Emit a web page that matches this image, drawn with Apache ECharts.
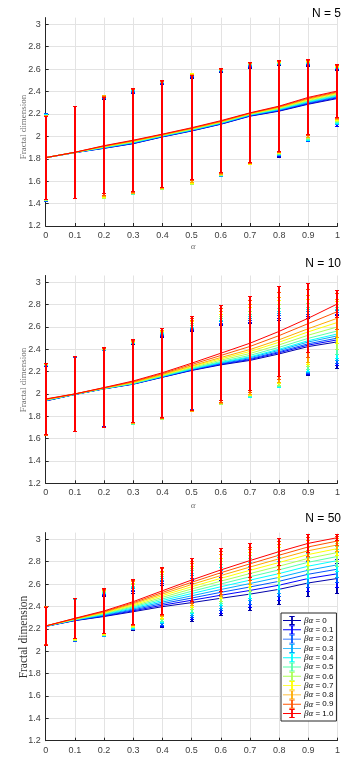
<!DOCTYPE html>
<html>
<head>
<meta charset="utf-8">
<script src="https://cdn.jsdelivr.net/npm/echarts@6/dist/echarts.min.js"></script>
<style>
  html, body { margin: 0; padding: 0; background: #fff; }
  #chart { width: 343px; height: 757px; }
</style>
</head>
<body>
<div id="chart"></div>
<script>
// alpha values on the x axis
const alphas = [0, 0.1, 0.2, 0.3, 0.4, 0.5, 0.6, 0.7, 0.8, 0.9, 1]
// beta*alpha legend labels
const betas = ['0', '0.1', '0.2', '0.3', '0.4', '0.5', '0.6', '0.7', '0.8', '0.9', '1.0']
const panelTitles = ['N = 5', 'N = 10', 'N = 50']

// N = 5 : mean fractal dimension, one row per beta
const n5Mean = [
  [1.81, 1.855, 1.893, 1.935, 1.995, 2.048, 2.108, 2.180, 2.225, 2.287, 2.338],
  [1.81, 1.855, 1.895, 1.937, 1.997, 2.050, 2.110, 2.183, 2.229, 2.292, 2.345],
  [1.81, 1.856, 1.897, 1.940, 1.999, 2.053, 2.113, 2.186, 2.233, 2.298, 2.352],
  [1.81, 1.856, 1.899, 1.943, 2.002, 2.055, 2.116, 2.189, 2.237, 2.304, 2.358],
  [1.81, 1.856, 1.901, 1.946, 2.004, 2.058, 2.119, 2.192, 2.241, 2.309, 2.364],
  [1.81, 1.857, 1.904, 1.949, 2.007, 2.061, 2.122, 2.195, 2.246, 2.315, 2.370],
  [1.81, 1.857, 1.906, 1.952, 2.009, 2.064, 2.125, 2.198, 2.250, 2.321, 2.377],
  [1.81, 1.857, 1.909, 1.955, 2.012, 2.067, 2.128, 2.201, 2.255, 2.328, 2.384],
  [1.81, 1.857, 1.911, 1.958, 2.014, 2.070, 2.131, 2.204, 2.260, 2.334, 2.391],
  [1.81, 1.858, 1.914, 1.962, 2.017, 2.073, 2.135, 2.207, 2.265, 2.341, 2.398],
  [1.81, 1.858, 1.917, 1.966, 2.020, 2.077, 2.140, 2.210, 2.270, 2.348, 2.405]
]
// N = 5 : error bar half length
const n5Err = [
  [0.395, 0.41, 0.435, 0.445, 0.465, 0.47, 0.46, 0.43, 0.41, 0.335, 0.25],
  [0.39, 0.41, 0.44, 0.45, 0.47, 0.475, 0.465, 0.435, 0.41, 0.34, 0.255],
  [0.39, 0.41, 0.445, 0.455, 0.47, 0.48, 0.465, 0.44, 0.405, 0.34, 0.25],
  [0.385, 0.41, 0.45, 0.46, 0.475, 0.485, 0.47, 0.44, 0.405, 0.345, 0.25],
  [0.385, 0.41, 0.455, 0.46, 0.475, 0.49, 0.47, 0.445, 0.405, 0.345, 0.245],
  [0.38, 0.41, 0.46, 0.465, 0.475, 0.49, 0.47, 0.445, 0.405, 0.34, 0.245],
  [0.38, 0.41, 0.46, 0.465, 0.48, 0.495, 0.47, 0.45, 0.405, 0.34, 0.24],
  [0.375, 0.41, 0.455, 0.465, 0.48, 0.49, 0.47, 0.45, 0.405, 0.34, 0.24],
  [0.375, 0.41, 0.45, 0.465, 0.48, 0.48, 0.47, 0.45, 0.405, 0.34, 0.24],
  [0.37, 0.41, 0.44, 0.46, 0.475, 0.47, 0.465, 0.45, 0.405, 0.335, 0.235],
  [0.37, 0.41, 0.43, 0.46, 0.475, 0.465, 0.465, 0.447, 0.405, 0.335, 0.235]
]

// N = 10
const n10Mean = [
  [1.937, 1.995, 2.045, 2.087, 2.149, 2.210, 2.260, 2.300, 2.358, 2.424, 2.466],
  [1.938, 1.996, 2.046, 2.089, 2.151, 2.213, 2.265, 2.308, 2.369, 2.437, 2.484],
  [1.940, 1.996, 2.047, 2.090, 2.153, 2.217, 2.270, 2.315, 2.378, 2.449, 2.500],
  [1.941, 1.997, 2.048, 2.092, 2.156, 2.220, 2.277, 2.325, 2.390, 2.465, 2.520],
  [1.943, 1.997, 2.048, 2.093, 2.158, 2.224, 2.282, 2.332, 2.400, 2.477, 2.537],
  [1.944, 1.998, 2.049, 2.095, 2.161, 2.229, 2.290, 2.345, 2.417, 2.498, 2.564],
  [1.946, 1.998, 2.050, 2.099, 2.165, 2.236, 2.302, 2.362, 2.439, 2.526, 2.600],
  [1.948, 1.999, 2.052, 2.102, 2.170, 2.244, 2.314, 2.380, 2.463, 2.556, 2.640],
  [1.950, 1.999, 2.053, 2.105, 2.175, 2.251, 2.326, 2.397, 2.485, 2.584, 2.678],
  [1.952, 2.000, 2.055, 2.110, 2.182, 2.263, 2.344, 2.425, 2.522, 2.630, 2.737],
  [1.955, 2.000, 2.057, 2.116, 2.190, 2.275, 2.364, 2.454, 2.560, 2.678, 2.806]
]
const n10Err = [
  [0.31, 0.33, 0.34, 0.357, 0.36, 0.35, 0.35, 0.33, 0.30, 0.255, 0.235],
  [0.31, 0.33, 0.342, 0.36, 0.365, 0.355, 0.355, 0.335, 0.31, 0.26, 0.23],
  [0.312, 0.332, 0.345, 0.36, 0.37, 0.36, 0.36, 0.34, 0.32, 0.265, 0.23],
  [0.313, 0.335, 0.345, 0.362, 0.375, 0.37, 0.37, 0.35, 0.33, 0.27, 0.225],
  [0.315, 0.335, 0.348, 0.362, 0.38, 0.375, 0.375, 0.36, 0.34, 0.275, 0.22],
  [0.315, 0.335, 0.35, 0.365, 0.385, 0.385, 0.385, 0.37, 0.35, 0.28, 0.21],
  [0.317, 0.335, 0.35, 0.365, 0.39, 0.39, 0.395, 0.38, 0.36, 0.285, 0.20],
  [0.318, 0.336, 0.352, 0.368, 0.39, 0.40, 0.40, 0.39, 0.37, 0.29, 0.19],
  [0.318, 0.336, 0.352, 0.368, 0.395, 0.41, 0.41, 0.40, 0.38, 0.30, 0.17],
  [0.32, 0.333, 0.355, 0.37, 0.40, 0.415, 0.42, 0.41, 0.39, 0.305, 0.16],
  [0.32, 0.333, 0.355, 0.37, 0.40, 0.42, 0.425, 0.42, 0.40, 0.31, 0.12]
]

// N = 50
const n50Mean = [
  [2.222, 2.273, 2.310, 2.353, 2.398, 2.434, 2.473, 2.510, 2.553, 2.610, 2.650],
  [2.222, 2.275, 2.314, 2.361, 2.411, 2.455, 2.500, 2.543, 2.590, 2.650, 2.692],
  [2.223, 2.277, 2.319, 2.369, 2.425, 2.475, 2.526, 2.574, 2.625, 2.688, 2.733],
  [2.223, 2.279, 2.324, 2.378, 2.439, 2.495, 2.551, 2.605, 2.660, 2.724, 2.772],
  [2.224, 2.281, 2.329, 2.387, 2.453, 2.515, 2.576, 2.635, 2.694, 2.760, 2.810],
  [2.224, 2.283, 2.334, 2.396, 2.467, 2.535, 2.601, 2.665, 2.727, 2.795, 2.847],
  [2.225, 2.285, 2.339, 2.405, 2.482, 2.556, 2.626, 2.694, 2.760, 2.830, 2.882],
  [2.225, 2.287, 2.344, 2.414, 2.497, 2.576, 2.651, 2.723, 2.793, 2.864, 2.917],
  [2.226, 2.289, 2.349, 2.424, 2.511, 2.596, 2.676, 2.752, 2.826, 2.898, 2.950],
  [2.226, 2.292, 2.354, 2.433, 2.525, 2.616, 2.701, 2.781, 2.858, 2.932, 2.985],
  [2.225, 2.294, 2.360, 2.443, 2.540, 2.636, 2.726, 2.810, 2.890, 2.964, 3.015]
]
const n50Err = [
  [0.17, 0.19, 0.18, 0.165, 0.19, 0.17, 0.155, 0.15, 0.14, 0.12, 0.13],
  [0.17, 0.19, 0.185, 0.17, 0.19, 0.175, 0.16, 0.155, 0.14, 0.12, 0.125],
  [0.17, 0.19, 0.185, 0.175, 0.195, 0.175, 0.165, 0.155, 0.14, 0.115, 0.12],
  [0.17, 0.185, 0.19, 0.18, 0.195, 0.18, 0.17, 0.155, 0.14, 0.115, 0.11],
  [0.17, 0.185, 0.19, 0.185, 0.20, 0.18, 0.17, 0.16, 0.14, 0.11, 0.10],
  [0.17, 0.185, 0.19, 0.185, 0.20, 0.185, 0.175, 0.16, 0.135, 0.105, 0.09],
  [0.17, 0.185, 0.195, 0.19, 0.20, 0.185, 0.18, 0.16, 0.135, 0.10, 0.08],
  [0.17, 0.18, 0.195, 0.19, 0.205, 0.185, 0.18, 0.155, 0.13, 0.095, 0.065],
  [0.17, 0.18, 0.195, 0.195, 0.205, 0.19, 0.185, 0.155, 0.13, 0.09, 0.055],
  [0.17, 0.18, 0.20, 0.20, 0.21, 0.19, 0.19, 0.15, 0.125, 0.085, 0.04],
  [0.17, 0.18, 0.20, 0.20, 0.21, 0.19, 0.19, 0.15, 0.12, 0.08, 0.03]
]

// jet(11)
const colors = ['#0000aa', '#0000ff', '#0055ff', '#00aaff', '#00ffff', '#55ffaa',
  '#aaff55', '#ffff00', '#ffaa00', '#ff5500', '#ff0000']

const panels = [
  { mean: n5Mean, err: n5Err, top: 17.6, height: 208.4, labelY: 127, titleY: 14, nameSize: 9, nameColor: '#707070', alphaY: 247 },
  { mean: n10Mean, err: n10Err, top: 275.5, height: 207.8, labelY: 380, titleY: 264, nameSize: 9, nameColor: '#707070', alphaY: 506 },
  { mean: n50Mean, err: n50Err, top: 532.6, height: 208.1, labelY: 637, titleY: 519, nameSize: 11.5, nameColor: '#333', alphaY: null }
]

const axisColor = '#262626'
const labelStyle = { fontSize: 9, color: '#404040', fontFamily: 'Liberation Sans', margin: 5 }

function renderErrorBar(params, api) {
  const x = api.value(0)
  const m = api.value(1)
  const e = api.value(2)
  const hi = api.coord([x, m + e])
  const lo = api.coord([x, m - e])
  // whole-pixel x so a 2px bar fully covers the bars drawn under it
  const cx = Math.round(hi[0])
  const yTop = Math.round(hi[1] - 0.5) + 0.5
  const yBot = Math.round(lo[1] - 0.5) + 0.5
  const w = 2
  const color = api.visual('color')
  return {
    type: 'group',
    children: [
      { type: 'line', shape: { x1: cx, y1: yTop, x2: cx, y2: yBot }, style: { stroke: color, lineWidth: 2 } },
      { type: 'line', shape: { x1: cx - w, y1: yTop, x2: cx + w, y2: yTop }, style: { stroke: color, lineWidth: 1 } },
      { type: 'line', shape: { x1: cx - w, y1: yBot, x2: cx + w, y2: yBot }, style: { stroke: color, lineWidth: 1 } }
    ]
  }
}

const grid = []
const xAxis = []
const yAxis = []
const series = []
const graphic = []

panels.forEach((p, pi) => {
  grid.push({ left: 45.7, width: 294.6, top: p.top, height: p.height })
  xAxis.push({
    type: 'value', gridIndex: pi, min: 0, max: 1, interval: 0.1,
    axisLine: { lineStyle: { color: axisColor, width: 1 } },
    axisTick: { inside: true, length: 3, lineStyle: { color: axisColor } },
    axisLabel: labelStyle,
    splitLine: { show: true, lineStyle: { color: '#e3e3e3', width: 1 } }
  })
  yAxis.push({
    type: 'value', gridIndex: pi, min: 1.2, max: 3.06, interval: 0.2,
    axisLine: { show: true, lineStyle: { color: axisColor, width: 1 } },
    axisTick: { show: true, inside: true, length: 3, lineStyle: { color: axisColor } },
    axisLabel: Object.assign({ showMaxLabel: false }, labelStyle),
    splitLine: { show: true, showMaxLine: false, lineStyle: { color: '#e3e3e3', width: 1 } }
  })

  betas.forEach((b, k) => {
    const lineData = alphas.map((a, i) => [a, p.mean[k][i]])
    const barData = alphas.map((a, i) => [a, p.mean[k][i], p.err[k][i]])
    // line and its error bars share one z so later betas sit on top
    series.push({
      type: 'line', name: 'mean' + pi + '-' + b,
      xAxisIndex: pi, yAxisIndex: pi, z: 2 + k * 0.01,
      data: lineData, symbol: 'none', silent: true,
      lineStyle: { color: colors[k], width: 1 },
      itemStyle: { color: colors[k] }
    })
    series.push({
      type: 'custom', name: pi === 2 ? b : 'err' + pi + '-' + b,
      xAxisIndex: pi, yAxisIndex: pi, z: 2 + k * 0.01,
      data: barData, renderItem: renderErrorBar, silent: true,
      encode: { x: 0, y: 1 },
      itemStyle: { color: colors[k] }
    })
  })

  graphic.push({
    type: 'text', x: 341, y: p.titleY,
    style: { text: panelTitles[pi], fontSize: 12, fill: '#000', fontFamily: 'Liberation Sans', align: 'right', verticalAlign: 'middle' }
  })
  graphic.push({
    type: 'text', x: 24, y: p.labelY, rotation: Math.PI / 2,
    style: { text: 'Fractal dimension', fontSize: p.nameSize, fill: p.nameColor, fontFamily: 'Liberation Serif', align: 'center', verticalAlign: 'middle' }
  })
  if (p.alphaY) {
    graphic.push({
      type: 'text', x: 193, y: p.alphaY,
      style: { text: 'α', fontSize: 9, fill: '#707070', fontFamily: 'Liberation Serif', fontStyle: 'italic', align: 'center', verticalAlign: 'middle' }
    })
  }
})

const chart = echarts.init(document.getElementById('chart'), null, { renderer: 'canvas' })
chart.setOption({
  animation: false,
  backgroundColor: '#fff',
  grid: grid,
  xAxis: xAxis,
  yAxis: yAxis,
  legend: {
    data: betas,
    orient: 'vertical',
    left: 281,
    top: 613,
    backgroundColor: '#fff',
    borderColor: axisColor,
    borderWidth: 1,
    borderRadius: 0,
    padding: [3, 3, 3, 2],
    itemWidth: 18,
    itemHeight: 10,
    itemGap: 0.3,
    icon: 'path://M0,4.5H20V5.5H0Z M9,0H11V10H9Z M7,0H13V1H7Z M7,9H13V10H7Z',
    formatter: name => '{g|βα} = ' + name,
    textStyle: {
      fontSize: 8, color: '#000', fontFamily: 'Liberation Sans', padding: [0, 0, 0, -2],
      rich: { g: { fontFamily: 'Liberation Serif', fontStyle: 'italic', fontSize: 9, color: '#000' } }
    }
  },
  graphic: graphic,
  series: series
})
</script>
</body>
</html>
